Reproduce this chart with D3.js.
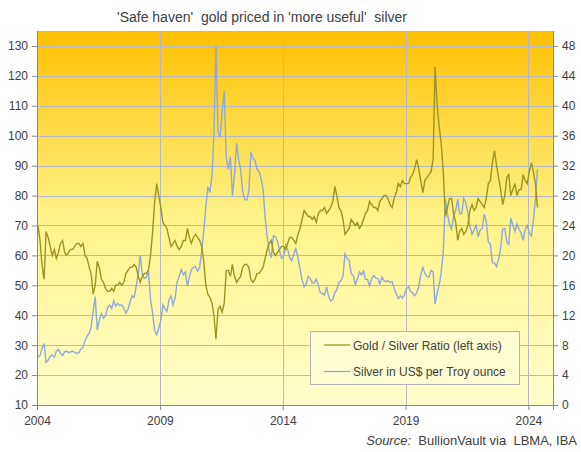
<!DOCTYPE html>
<html>
<head>
<meta charset="utf-8">
<script src="https://cdn.jsdelivr.net/npm/d3@7"></script>
<style>
  body { margin: 0; background: #fff; }
  text { font-family: "Liberation Sans", Arial, sans-serif; fill: #404040; }
</style>
</head>
<body>
<div id="chart"></div>
<script>

// monthly readings, Jan 2004 .. May 2024 (mid-month)
var startYear = 2004;

var ratio = [
  70, 65, 57, 52, 68, 66, 63, 60, 62, 59, 61, 64,   // 2004
  65, 61, 60, 61, 62, 62, 63, 64, 64, 63, 64, 60,   // 2005
  59, 56, 54, 47, 50, 58, 56, 52, 51, 49, 48, 48,   // 2006
  49, 48, 50, 50, 51, 50, 51, 54, 55, 56, 56, 57,   // 2007
  56, 53, 51, 53, 54, 54, 55, 60, 68, 78, 84, 80,   // 2008
  76, 71, 70, 69, 66, 63, 64, 65, 63, 62, 63, 65,   // 2009
  65, 69, 66, 64, 66, 67, 66, 65, 63, 58, 50, 47,   // 2010
  46, 44, 40, 32, 42, 43, 41, 44, 55, 55, 53, 57,   // 2011
  53, 51, 52, 53, 56, 57, 57, 56, 52, 51, 52, 54,   // 2012
  54, 55, 56, 59, 62, 64, 65, 61, 60, 61, 62, 63,   // 2013
  63, 62, 64, 66, 66, 65, 64, 67, 69, 72, 75, 74,   // 2014
  73, 73, 72, 73, 71, 74, 75, 75, 76, 74, 75, 76,   // 2015
  78, 83, 80, 76, 75, 72, 67, 68, 69, 72, 71, 70,   // 2016
  71, 69, 70, 72, 74, 75, 78, 77, 76, 76, 75, 78,   // 2017
  79, 80, 80, 79, 77, 76, 79, 81, 84, 83, 85, 84,   // 2018
  84, 84, 86, 87, 89, 92, 89, 85, 81, 85, 86, 87,   // 2019
  88, 92, 123, 110, 103, 97, 88, 73, 76, 79, 79, 74, // 2020
  71, 65, 68, 69, 67, 68, 70, 75, 77, 75, 76, 79,   // 2021
  78, 77, 76, 79, 84, 85, 91, 95, 90, 86, 82, 77,   // 2022
  80, 86, 87, 80, 82, 84, 80, 82, 82, 87, 85, 84,   // 2023
  88, 91, 88, 84, 76                                // 2024
];

var silver = [
  6.4, 6.6, 7.5, 8.2, 5.7, 6.0, 6.5, 6.7, 6.4, 7.2, 7.4, 6.9,        // 2004
  6.6, 7.1, 7.2, 7.0, 7.1, 7.2, 7.0, 6.9, 7.0, 7.5, 7.7, 8.6,        // 2005
  9.2, 9.6, 10.4, 12.5, 14.5, 10.0, 11.3, 12.2, 11.6, 11.9, 13.0, 13.4, // 2006
  12.9, 13.9, 13.2, 13.6, 13.3, 13.4, 12.9, 12.3, 12.8, 13.7, 14.6, 14.4, // 2007
  15.9, 17.6, 20.0, 17.4, 16.9, 17.1, 17.9, 14.1, 12.2, 10.0, 9.4, 10.3, // 2008
  11.3, 13.4, 12.9, 12.5, 14.0, 14.6, 13.4, 14.3, 16.5, 17.2, 18.1, 17.4, // 2009
  17.8, 15.9, 17.1, 18.1, 18.4, 18.5, 17.9, 18.4, 20.6, 23.3, 26.4, 29.2, // 2010
  28.4, 30.7, 36.0, 48.0, 36.5, 35.8, 39.0, 42.0, 33.0, 31.5, 33.2, 28.0, // 2011
  30.8, 35.0, 32.9, 31.5, 28.6, 27.5, 27.4, 28.6, 33.8, 33.0, 32.7, 31.5, // 2012
  31.2, 30.2, 28.8, 25.0, 22.5, 20.5, 19.7, 22.6, 22.5, 21.9, 20.6, 19.6, // 2013
  19.9, 21.4, 20.8, 19.7, 19.3, 20.2, 20.9, 19.7, 18.2, 16.8, 15.8, 16.1, // 2014
  17.2, 16.9, 16.3, 16.3, 16.8, 16.0, 15.0, 14.9, 14.7, 15.8, 14.5, 13.9, // 2015
  14.1, 15.0, 15.4, 16.4, 16.6, 17.2, 20.2, 19.6, 19.3, 17.6, 17.3, 16.1, // 2016
  16.8, 17.8, 17.4, 17.9, 16.8, 16.8, 15.9, 16.9, 17.3, 17.0, 16.9, 16.2, // 2017
  17.1, 16.6, 16.5, 16.6, 16.4, 16.5, 15.6, 14.9, 14.2, 14.6, 14.3, 14.7, // 2018
  15.6, 15.8, 15.2, 15.0, 14.6, 15.0, 15.7, 17.4, 18.4, 17.6, 17.2, 17.1, // 2019
  18.0, 17.8, 13.5, 15.0, 16.0, 17.8, 20.5, 27.5, 25.5, 24.2, 23.5, 25.2, // 2020
  26.0, 27.5, 25.6, 25.6, 27.6, 27.0, 25.7, 23.9, 22.8, 23.4, 24.0, 22.5, // 2021
  23.4, 23.6, 25.5, 24.5, 21.8, 21.5, 19.0, 19.0, 18.5, 19.5, 21.0, 23.5, // 2022
  23.6, 21.8, 21.5, 25.0, 24.0, 23.2, 24.2, 23.5, 23.0, 22.0, 23.5, 24.0, // 2023
  23.0, 22.6, 24.6, 27.5, 31.5                                         // 2024
];

var yearTicks = [2004, 2009, 2014, 2019, 2024];
var leftTicks = [10, 20, 30, 40, 50, 60, 70, 80, 90, 100, 110, 120, 130];
var rightTicks = [0, 4, 8, 12, 16, 20, 24, 28, 32, 36, 40, 44, 48];
var seriesNames = ["Gold / Silver Ratio (left axis)", "Silver in US$ per Troy ounce"];

var w = 581;
var h = 452;
var pLeft = 37, pRight = 553, pTop = 31, pBottom = 405;

var gridColor = "#b7b7c6";
var goldColor = "#9c9422";
var silverColor = "#8eaadc";

var svg = d3.select("#chart")
            .append("svg")
              .attr("width", w)
              .attr("height", h);

// background gradient
var grad = svg.append("defs")
  .append("linearGradient")
    .attr("id", "bg")
    .attr("x1", 0).attr("y1", 0)
    .attr("x2", 0).attr("y2", 1);
grad.append("stop").attr("offset", "0%").attr("stop-color", "#ffc000");
grad.append("stop").attr("offset", "50%").attr("stop-color", "#fff38a");
grad.append("stop").attr("offset", "100%").attr("stop-color", "#ffffcc");

var xScale = d3.scaleTime()
  .domain([new Date(2004, 0, 1), new Date(2025, 0, 1)])
  .range([pLeft, pRight]);

var yLeft = d3.scaleLinear().domain([10, 135]).range([pBottom, pTop]);
var yRight = d3.scaleLinear().domain([0, 50]).range([pBottom, pTop]);

svg.append("rect")
  .attr("x", pLeft).attr("y", pTop)
  .attr("width", pRight - pLeft).attr("height", pBottom - pTop)
  .attr("fill", "url(#bg)");

// gridlines
svg.append("g")
  .selectAll("line")
  .data(leftTicks)
  .enter()
  .append("line")
    .attr("x1", pLeft).attr("x2", pRight)
    .attr("y1", function(d) { return Math.round(yLeft(d)) + 0.5; })
    .attr("y2", function(d) { return Math.round(yLeft(d)) + 0.5; })
    .attr("stroke", gridColor);

svg.append("g")
  .selectAll("line")
  .data(yearTicks)
  .enter()
  .append("line")
    .attr("x1", function(d) { return Math.round(xScale(new Date(d, 0, 1))) + 0.5; })
    .attr("x2", function(d) { return Math.round(xScale(new Date(d, 0, 1))) + 0.5; })
    .attr("y1", pTop).attr("y2", pBottom)
    .attr("stroke", gridColor);

// top border
svg.append("line")
  .attr("x1", pLeft).attr("x2", pRight)
  .attr("y1", pTop + 0.5).attr("y2", pTop + 0.5)
  .attr("stroke", gridColor);

// lines
function dateOf(i) { return new Date(startYear, i, 15); }

var ratioLine = d3.line()
  .x(function(d, i) { return xScale(dateOf(i)); })
  .y(function(d) { return yLeft(d); });

var silverLine = d3.line()
  .x(function(d, i) { return xScale(dateOf(i)); })
  .y(function(d) { return yRight(d); });

svg.append("path")
  .datum(silver)
  .attr("d", silverLine)
  .attr("fill", "none")
  .attr("stroke", silverColor)
  .attr("stroke-width", 1.4);

svg.append("path")
  .datum(ratio)
  .attr("d", ratioLine)
  .attr("fill", "none")
  .attr("stroke", goldColor)
  .attr("stroke-width", 1.4);

// axes
var xAxis = d3.axisBottom(xScale)
  .tickValues(yearTicks.map(function(y) { return new Date(y, 0, 1); }))
  .tickFormat(d3.timeFormat("%Y"))
  .tickSize(5);

var leftAxis = d3.axisLeft(yLeft).tickValues(leftTicks).tickSize(5).tickPadding(4);
var rightAxis = d3.axisRight(yRight).tickValues(rightTicks).tickSize(5).tickPadding(4);

function styleAxis(g) {
  g.select(".domain").attr("stroke", "#8a8a8a");
  g.selectAll(".tick line").attr("stroke", "#8a8a8a");
  g.selectAll(".tick text")
    .attr("font-size", 12)
    .attr("font-family", "Liberation Sans, Arial, sans-serif")
    .attr("fill", "#404040");
}

svg.append("g")
  .attr("transform", "translate(0," + pBottom + ")")
  .call(xAxis)
  .call(styleAxis)
  .call(function(g) { g.selectAll(".tick text").attr("dy", "1.0em"); });

svg.append("g")
  .attr("transform", "translate(" + pLeft + ",0)")
  .call(leftAxis)
  .call(styleAxis)
  .call(function(g) { g.select(".domain").attr("d", "M0.5," + pTop + "V" + pBottom); });

svg.append("g")
  .attr("transform", "translate(" + pRight + ",0)")
  .call(rightAxis)
  .call(styleAxis)
  .call(function(g) { g.select(".domain").attr("d", "M0.5," + pTop + "V" + pBottom); });

// title
svg.append("text")
  .attr("x", 262)
  .attr("y", 22)
  .attr("text-anchor", "middle")
  .attr("font-size", 14)
  .attr("fill", "#4a4a4a")
  .style("white-space", "pre")
  .text("'Safe haven'  gold priced in 'more useful'  silver");

// legend
var legend = svg.append("g");
legend.append("rect")
  .attr("x", 310.5).attr("y", 331.5)
  .attr("width", 209).attr("height", 53)
  .attr("fill", "#ffffd2")
  .attr("stroke", "#b4b4b4");

var legendColors = [goldColor, silverColor];
legend.selectAll("g.item")
  .data(seriesNames)
  .enter()
  .append("g")
    .attr("class", "item")
    .attr("transform", function(d, i) { return "translate(0," + (345 + i * 26.5) + ")"; })
    .each(function(d, i) {
      var g = d3.select(this);
      g.append("line")
        .attr("x1", 324).attr("x2", 350)
        .attr("stroke", legendColors[i])
        .attr("stroke-width", 1.3);
      g.append("text")
        .attr("x", 353).attr("y", 4.5)
        .attr("font-size", 12)
        .text(d);
    });

// source
var src = svg.append("text")
  .attr("x", 577)
  .attr("y", 445)
  .attr("text-anchor", "end")
  .attr("font-size", 13)
  .style("white-space", "pre");
src.append("tspan").attr("font-style", "italic").text("Source:");
src.append("tspan").text("  BullionVault via  LBMA, IBA");

</script>
</body>
</html>
